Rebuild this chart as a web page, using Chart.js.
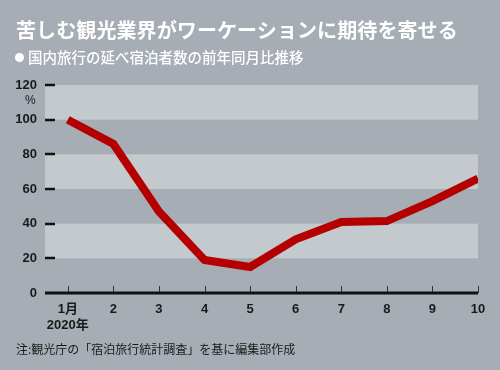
<!DOCTYPE html>
<html><head><meta charset="utf-8">
<script src="https://cdn.jsdelivr.net/npm/chart.js@4/dist/chart.umd.min.js"></script>
<style>
html,body{margin:0;padding:0;}
body{width:500px;height:370px;background:#a6adb4;position:relative;overflow:hidden;font-family:"Noto Sans CJK JP","Noto Sans",sans-serif;}
#title{position:absolute;left:16px;top:15px;font-size:20px;font-weight:bold;color:#fff;white-space:nowrap;letter-spacing:0.1px;}
#sub{position:absolute;left:15px;top:46px;font-size:14.5px;font-weight:500;color:#fff;white-space:nowrap;}
#sub .dot{display:inline-block;width:9px;height:9px;border-radius:50%;background:#fff;margin-right:4px;vertical-align:1px;}
#note{position:absolute;left:16px;top:340px;font-size:12px;color:#1a1a1a;white-space:nowrap;}
#pct{position:absolute;left:25px;top:93px;font-size:12px;color:#1a1a1a;font-family:"Liberation Sans",Arial,sans-serif;}
#wrap{position:absolute;left:0;top:0;width:500px;height:370px;}
</style></head>
<body>
<div id="wrap"><canvas id="c" width="500" height="370"></canvas></div>
<div id="title">苦しむ観光業界がワーケーションに期待を寄せる</div>
<div id="sub"><span class="dot"></span>国内旅行の延べ宿泊者数の前年同月比推移</div>
<div id="pct">%</div>
<div id="note">注:観光庁の「宿泊旅行統計調査」を基に編集部作成</div>
<script>
const months = [1,2,3,4,5,6,7,8,9,10];
const monthLabels = [["1月","2020年"],"2","3","4","5","6","7","8","9","10"];
const values = [100,86,47,19,15,31,41,41.5,53,66];
const yTicks = [0,20,40,60,80,100,120];
const bandRanges = [[20,40],[60,80],[100,120]];

const decor = {
  id:'decor',
  beforeDatasetsDraw(chart){
    const {ctx, chartArea:a, scales:{x,y}} = chart;
    ctx.save();
    ctx.fillStyle = '#c3c9cc';
    bandRanges.forEach(([lo,hi])=>{
      const t = y.getPixelForValue(hi), b = y.getPixelForValue(lo);
      ctx.fillRect(a.left, t, a.right-a.left, b-t);
    });
    ctx.strokeStyle = '#111';
    ctx.lineWidth = 2.5;
    yTicks.forEach(v=>{
      if(v===0) return;
      const py = Math.round(y.getPixelForValue(v));
      ctx.beginPath(); ctx.moveTo(a.left, py); ctx.lineTo(a.left+10, py); ctx.stroke();
    });
    ctx.lineWidth = 1;
    ctx.strokeStyle = '#333';
    months.forEach(m=>{
      const px = Math.round(x.getPixelForValue(m))+0.5;
      ctx.beginPath(); ctx.moveTo(px, a.bottom-7); ctx.lineTo(px, a.bottom); ctx.stroke();
    });
    ctx.strokeStyle = '#111';
    ctx.lineWidth = 3;
    const by = y.getPixelForValue(0);
    ctx.beginPath(); ctx.moveTo(a.left, by); ctx.lineTo(a.right, by); ctx.stroke();
    ctx.restore();
  }
};

new Chart(document.getElementById('c'), {
  type:'line',
  data:{datasets:[{
    data: months.map((m,i)=>({x:m, y:values[i]})),
    borderColor:'#b40000',
    borderWidth:8,
    pointRadius:0,
    tension:0,
    borderJoinStyle:'miter',
    borderCapStyle:'butt'
  }]},
  options:{
    responsive:false,
    animation:false,
    layout:{padding:{left:0,right:22,top:85,bottom:0}},
    plugins:{legend:{display:false},tooltip:{enabled:false}},
    scales:{
      x:{
        type:'linear', min:0.5, max:10,
        afterBuildTicks(s){ s.ticks = months.map(v=>({value:v})); },
        afterFit(s){ s.height = 77; },
        grid:{display:false, drawTicks:false},
        border:{display:false},
        ticks:{
          autoSkip:false, maxRotation:0, padding:8,
          color:'#1a1a1a',
          font:{family:'"Liberation Sans","Noto Sans CJK JP",sans-serif', size:13, weight:'bold', lineHeight:1.25},
          callback(v){ const i = months.indexOf(v); return i>=0 ? monthLabels[i] : ''; }
        }
      },
      y:{
        min:0, max:120,
        afterBuildTicks(s){ s.ticks = yTicks.map(v=>({value:v})); },
        afterFit(s){ s.width = 45; },
        grid:{display:false, drawTicks:false},
        border:{display:false},
        ticks:{
          padding:8, color:'#1a1a1a',
          font:{family:'"Liberation Sans",Arial,sans-serif', size:13, weight:'bold'}
        }
      }
    }
  },
  plugins:[decor]
});
</script>
</body></html>
